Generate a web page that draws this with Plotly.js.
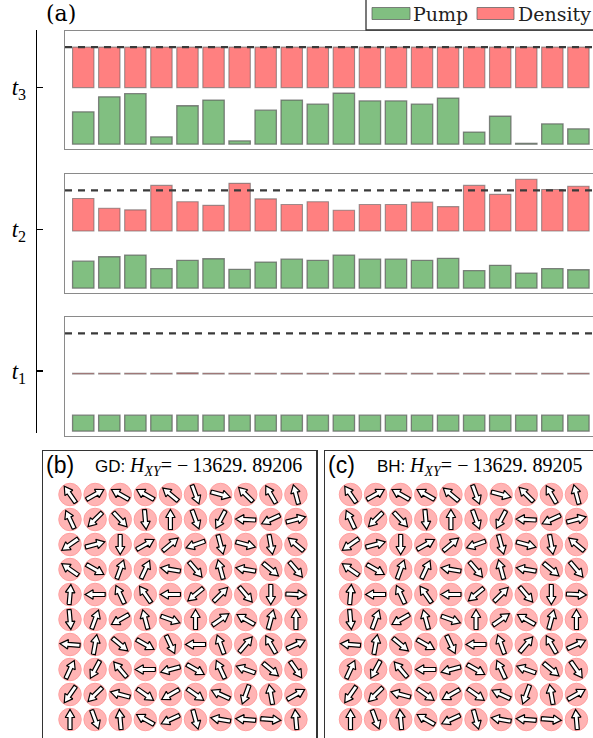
<!DOCTYPE html>
<html><head><meta charset="utf-8">
<script src="https://cdn.plot.ly/plotly-3.0.1.min.js"></script>
<style>html,body{margin:0;padding:0;background:#fff}</style>
</head><body><div id="chart" style="width:593px;height:738px"></div>
<script>
// ---------- data ----------
const sites = [0,1,2,3,4,5,6,7,8,9,10,11,12,13,14,15,16,17,18,19];
const pumpT3    = [0.80,1.17,1.25,0.18,0.95,1.09,0.08,0.84,1.09,0.99,1.26,1.07,1.07,0.99,1.14,0.30,0.69,0.02,0.50,0.38];
const densityT3 = [1,1,1,1,1,1,1,1,1,1,1,1,1,1,1,1,1,1,1,1];
const pumpT2    = [0.66,0.77,0.81,0.48,0.68,0.72,0.46,0.64,0.71,0.68,0.81,0.71,0.71,0.68,0.73,0.43,0.56,0.37,0.48,0.45];
const densityT2 = [0.80,0.56,0.52,1.12,0.72,0.63,1.17,0.79,0.65,0.72,0.51,0.65,0.65,0.71,0.60,1.12,0.90,1.27,1.02,1.10];
const pumpT1    = [0.39,0.39,0.39,0.39,0.39,0.39,0.39,0.39,0.39,0.39,0.39,0.39,0.39,0.39,0.39,0.39,0.39,0.39,0.39,0.39];
const densityT1 = [0.02,0.02,0.02,0.02,0.03,0.02,0.02,0.02,0.02,0.02,0.02,0.02,0.02,0.02,0.02,0.02,0.02,0.02,0.02,0.02];
const fullDensity = 1;
const timeTicks = [1,2,3];
const timeLabels = ['<i>t</i><sub>1</sub>','<i>t</i><sub>2</sub>','<i>t</i><sub>3</sub>'];
const legendLabels = ['Pump','Density'];
// spin angles (degrees, counter-clockwise from +x), rows top to bottom
const anglesGD = [
  [125, 30,150,150,140,-70,-15,135,120,105],
  [115,225,-47,-85, 90,-70,242,177,205, 15],
  [215, 15,-90, 30, 40,200,-75,-15,-80,140],
  [145,-30, 70, 65,170,-50,105,170,-40,-50],
  [ 85,180,115,125,180,220, 45,-50,-90, -3],
  [-85, 70,210,105,-20, 90, 35,150, 75, 90],
  [175, 80,-40,-30,-65,180,110, 50,120, 25],
  [ 65,242,130,180,195,-30,115,160,-40,-55],
  [235,225,165,-35,210,-35,155,250,100, 30],
  [ 90,-70, 95,150,205,-75,170,175, -5, 95]
];
const anglesBH = [
  [125, 30,150,150,140,-70,-15,135,120,105],
  [115,225,-47,-85, 90,-70,242,177,205, 15],
  [215, 15,-90, 30, 40,200,-75,-15,-80,140],
  [145,-30, 70, 65,170,-50,105,170,-40,-50],
  [ 85,180,115,125,180,220, 45,-50,-90, -3],
  [-85, 70,210,105,-20, 90, 35,150, 75, 90],
  [175, 80,-40,-30,-65,180,110, 50,120, 25],
  [ 65,242,130,180,195,-30,115,160,-40,-55],
  [235,225,165,-35,210,-35,155,250,100, 30],
  [ 90,-70, 95,150,205,-75,170,175, -5, 95]
];
const energyGD = '−&#8201;13629. 89206';
const energyBH = '−&#8201;13629. 89205';

// ---------- helpers ----------
const W = 593, H = 738;
const px = v => v / W, py = v => 1 - v / H;
const GREEN = '#81bf81', RED = '#ff8080';
const DENS_BASE = 1.4;
const XR = [-0.7, 19.56];

function gridPoints(angles) {
  const xs = [], ys = [];
  angles.forEach((row, r) => row.forEach((a, c) => { xs.push(c); ys.push(angles.length - 1 - r); }));
  return {xs, ys};
}
function arrowPolys(angles) {
  const xs = [], ys = [];
  const L = 0.80, hl = 0.32, hw = 0.19, sw = 0.08;
  const n = angles.length;
  angles.forEach((row, r) => row.forEach((deg, c) => {
    const t = deg * Math.PI / 180, ux = Math.cos(t), uy = Math.sin(t), vx = -uy, vy = ux;
    const cx = c, cy = n - 1 - r;
    const pts = [[-L/2, sw],[L/2-hl, sw],[L/2-hl, hw],[L/2, 0],[L/2-hl,-hw],[L/2-hl,-sw],[-L/2,-sw],[-L/2, sw]];
    pts.forEach(([a, b]) => { xs.push(cx + a*ux + b*vx); ys.push(cy + a*uy + b*vy); });
    xs.push(null); ys.push(null);
  }));
  return {xs, ys};
}

const traces = [];
const panels = [
  {pump: pumpT3, dens: densityT3, xa: 'x',  ya: 'y'},
  {pump: pumpT2, dens: densityT2, xa: 'x2', ya: 'y2'},
  {pump: pumpT1, dens: densityT1, xa: 'x3', ya: 'y3'}
];
panels.forEach((p, i) => {
  traces.push({type: 'bar', x: sites, y: p.pump, base: 0, width: 0.82, xaxis: p.xa, yaxis: p.ya,
    name: legendLabels[0], showlegend: false, hoverinfo: 'skip',
    marker: {color: GREEN, line: {color: 'rgba(95,95,95,0.75)', width: 1.3}}});
  traces.push({type: 'bar', x: sites, y: p.dens, base: DENS_BASE, width: 0.82, xaxis: p.xa, yaxis: p.ya,
    name: legendLabels[1], showlegend: false, hoverinfo: 'skip',
    marker: {color: RED, line: {color: 'rgba(95,95,95,0.6)', width: 1.1}}});
  traces.push({type: 'scatter', mode: 'lines', x: [XR[0], XR[1] + 0.2], y: [DENS_BASE + fullDensity, DENS_BASE + fullDensity],
    xaxis: p.xa, yaxis: p.ya, showlegend: false, hoverinfo: 'skip', cliponaxis: true,
    line: {color: '#3a3a3a', width: 2.3, dash: '7px,6px'}});
});
// time axis carrier
traces.push({type: 'scatter', x: [], y: [], xaxis: 'x4', yaxis: 'y4', showlegend: false, hoverinfo: 'skip'});

[[anglesGD, 'x5', 'y5'], [anglesBH, 'x6', 'y6']].forEach(([ang, xa, ya]) => {
  const g = gridPoints(ang);
  traces.push({type: 'scatter', mode: 'markers', x: g.xs, y: g.ys, xaxis: xa, yaxis: ya, showlegend: false, hoverinfo: 'skip',
    marker: {size: 22.5, color: '#ffb4b4', line: {color: '#ffa0a0', width: 1}}});
  const a = arrowPolys(ang);
  traces.push({type: 'scatter', mode: 'lines', x: a.xs, y: a.ys, xaxis: xa, yaxis: ya, showlegend: false, hoverinfo: 'skip',
    fill: 'toself', fillcolor: '#ffffff', connectgaps: false, line: {color: '#000', width: 1.2}});
});

const topX = d => ({domain: [px(65), 1], range: XR, showticklabels: false, ticks: '', showgrid: false, zeroline: false,
  showline: true, mirror: true, linecolor: '#8a8a8a', linewidth: 1.3, fixedrange: true, anchor: d});
const topY = (d, a) => ({domain: d, range: [-0.12, 2.8], showticklabels: false, ticks: '', showgrid: false, zeroline: false,
  showline: true, mirror: false, linecolor: '#8a8a8a', linewidth: 1.3, fixedrange: true, anchor: a});
const hideAx = {showticklabels: false, ticks: '', showgrid: false, zeroline: false, showline: false};

const layout = {
  width: W, height: H, margin: {l: 0, r: 0, t: 0, b: 0}, paper_bgcolor: '#fff', plot_bgcolor: 'rgba(0,0,0,0)',
  barmode: 'overlay', showlegend: false,
  xaxis: topX('y'),  yaxis: topY([py(149), py(31)], 'x'),
  xaxis2: topX('y2'), yaxis2: topY([py(293), py(174)], 'x2'),
  xaxis3: topX('y3'), yaxis3: topY([py(436), py(317)], 'x3'),
  xaxis4: Object.assign({domain: [px(37), px(38)], range: [0, 1], anchor: 'y4'}, hideAx),
  yaxis4: {domain: [py(433), py(30)], range: [0.563, 3.404], anchor: 'x4', side: 'left', showgrid: false, zeroline: false,
    showline: true, linecolor: '#000', linewidth: 1.3, ticks: 'inside', ticklen: 6, tickwidth: 1.3, tickcolor: '#000',
    tickvals: timeTicks, ticktext: timeLabels, ticklabelstandoff: 5,
    tickfont: {family: 'Liberation Serif', size: 23, color: '#000'}},
  xaxis5: {domain: [px(43), px(316)], range: [-1.076, 9.80], anchor: 'y5', side: 'top', showline: true, mirror: false,
    linecolor: '#333', linewidth: 1.5, showticklabels: false, ticks: '', showgrid: false, zeroline: false},
  yaxis5: {domain: [0, py(451)], range: [-0.74, 10.74], anchor: 'x5', showline: true, mirror: true,
    linecolor: '#333', linewidth: 1.5, showticklabels: false, ticks: '', showgrid: false, zeroline: false},
  xaxis6: {domain: [px(325), 1], range: [-1.016, 9.66], anchor: 'y6', side: 'top', showline: true, mirror: false,
    linecolor: '#333', linewidth: 1.5, showticklabels: false, ticks: '', showgrid: false, zeroline: false},
  yaxis6: {domain: [0, py(451)], range: [-0.74, 10.74], anchor: 'x6', showline: true, mirror: false,
    linecolor: '#333', linewidth: 1.5, showticklabels: false, ticks: '', showgrid: false, zeroline: false},
  shapes: [
    {type: 'rect', xref: 'paper', yref: 'paper', x0: px(366), x1: 1.05, y0: py(30), y1: 1.05, line: {color: '#333', width: 1.3}, fillcolor: '#fff'},
    {type: 'rect', xref: 'paper', yref: 'paper', x0: px(372), x1: px(410), y0: py(19.5), y1: py(7.5), line: {color: 'rgba(95,95,95,0.75)', width: 1}, fillcolor: GREEN},
    {type: 'rect', xref: 'paper', yref: 'paper', x0: px(477), x1: px(514), y0: py(19.5), y1: py(7.5), line: {color: 'rgba(95,95,95,0.75)', width: 1}, fillcolor: RED}
  ],
  annotations: [
    {text: '(a)', xref: 'paper', yref: 'paper', x: px(44), y: py(14), xanchor: 'left', yanchor: 'middle', showarrow: false,
      font: {family: 'DejaVu Serif', size: 22, color: '#000'}},
    {text: legendLabels[0], xref: 'paper', yref: 'paper', x: px(411), y: py(14), xanchor: 'left', yanchor: 'middle', showarrow: false,
      font: {family: 'DejaVu Serif', size: 19, color: '#222'}},
    {text: legendLabels[1], xref: 'paper', yref: 'paper', x: px(516), y: py(14), xanchor: 'left', yanchor: 'middle', showarrow: false,
      font: {family: 'DejaVu Serif', size: 19, color: '#222'}},
    {text: '(b)', xref: 'paper', yref: 'paper', x: px(44), y: py(465), xanchor: 'left', yanchor: 'middle', showarrow: false,
      font: {family: 'Liberation Sans', size: 23, color: '#000'}},
    {text: '<span style="font-family:Liberation Sans;font-size:17px">GD: </span><i>H</i><sub><i>XY</i></sub>= ' + energyGD,
      xref: 'paper', yref: 'paper', x: px(93), y: py(467), xanchor: 'left', yanchor: 'middle', showarrow: false,
      font: {family: 'Liberation Serif', size: 20, color: '#000'}},
    {text: '(c)', xref: 'paper', yref: 'paper', x: px(326), y: py(465), xanchor: 'left', yanchor: 'middle', showarrow: false,
      font: {family: 'Liberation Sans', size: 23, color: '#000'}},
    {text: '<span style="font-family:Liberation Sans;font-size:17px">BH: </span><i>H</i><sub><i>XY</i></sub>= ' + energyBH,
      xref: 'paper', yref: 'paper', x: px(375), y: py(467), xanchor: 'left', yanchor: 'middle', showarrow: false,
      font: {family: 'Liberation Serif', size: 20, color: '#000'}}
  ]
};
Plotly.newPlot('chart', traces, layout, {staticPlot: true, displayModeBar: false});
</script></body></html>
